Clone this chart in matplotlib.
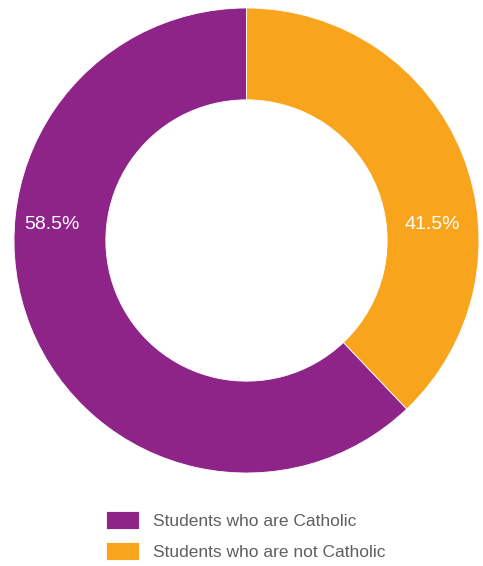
import matplotlib.pyplot as plt

plt.rcParams['font.family'] = ['Liberation Sans', 'DejaVu Sans']

labels = ['Students who are Catholic', 'Students who are not Catholic']
# wedge sizes as drawn in the picture (the printed labels differ slightly)
sizes = [62.1, 37.9]
pct_text = ['58.5%', '41.5%']
colors = ['#8E2488', '#F8A51D']

W, H = 483, 566
cx, cy, r = 246.5, 240.5, 232.5
fig = plt.figure(figsize=(W/100, H/100), dpi=100)
ax = fig.add_axes([(cx - r)/W, 1 - (cy + r)/H, 2*r/W, 2*r/H])
wedges, _ = ax.pie(sizes, colors=colors, startangle=90, counterclock=True,
                   radius=1, wedgeprops=dict(width=0.395, edgecolor='white', linewidth=0.6))
ax.set_xlim(-1, 1)
ax.set_ylim(-1, 1)
ax.set_aspect('equal')
ax.axis('off')

ax.text(-0.837, 0.07, pct_text[0], color='white', fontsize=14, ha='center', va='center')
ax.text(0.80, 0.07, pct_text[1], color='white', fontsize=14, ha='center', va='center')

fig.legend(wedges, labels, loc='upper left', bbox_to_anchor=(106/W, 1 - 511/H),
           frameon=False, fontsize=12.5, handlelength=1.9, handleheight=1.2,
           handletextpad=0.8, labelspacing=0.78, borderpad=0, borderaxespad=0,
           labelcolor='#5f5f5f')

fig.savefig('out.png', dpi=100)
